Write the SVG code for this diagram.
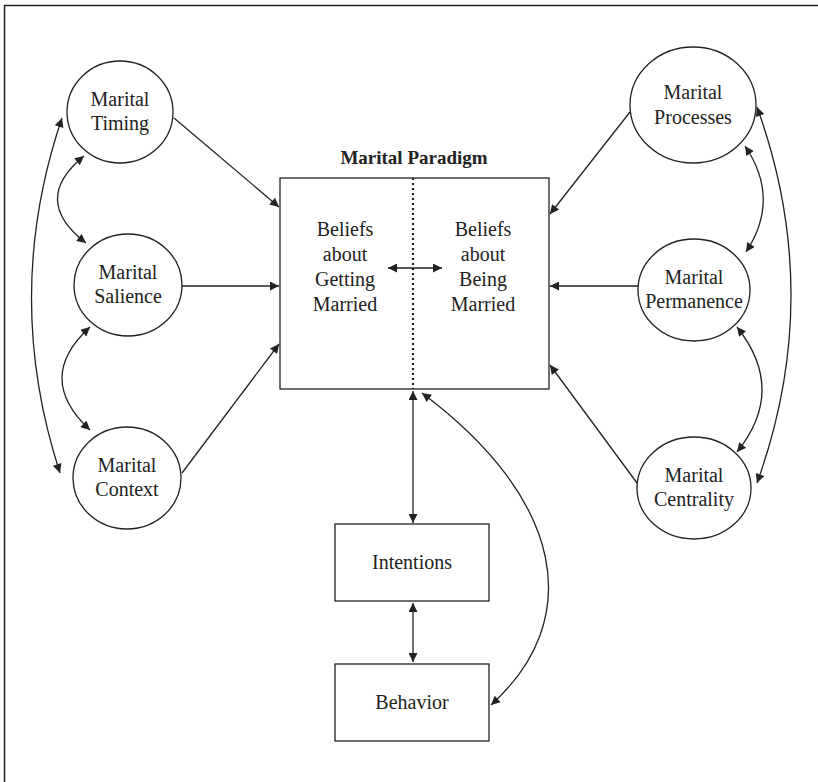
<svg xmlns="http://www.w3.org/2000/svg" width="818" height="782" viewBox="0 0 818 782">
<style>
.ln{fill:none;stroke:#222;stroke-width:1.3}
.nd{fill:#fff;stroke:#222;stroke-width:1.3}
text{font-family:'Liberation Serif','Times New Roman',Tinos,'DejaVu Serif',serif;font-size:20px;fill:#222;text-anchor:middle}
.b{font-weight:bold;font-size:19px}
</style>
<defs>
<marker id="ah" viewBox="0 0 10 10" refX="10" refY="5" markerWidth="11" markerHeight="9" markerUnits="userSpaceOnUse" orient="auto-start-reverse">
<path d="M0,0 L10,5 L0,10 z" fill="#222"/>
</marker>
</defs>
<rect width="818" height="782" fill="#fff"/>
<path d="M4.5,782 V5.5 H818" fill="none" stroke="#222" stroke-width="1.5"/>

<g id="connectors">
<line class="ln" x1="174" y1="118" x2="279" y2="207" marker-end="url(#ah)"/>
<line class="ln" x1="182" y1="286" x2="279" y2="286" marker-end="url(#ah)"/>
<line class="ln" x1="182" y1="473" x2="279" y2="344" marker-end="url(#ah)"/>
<line class="ln" x1="630" y1="112" x2="550" y2="214" marker-end="url(#ah)"/>
<line class="ln" x1="638" y1="286" x2="550" y2="286" marker-end="url(#ah)"/>
<line class="ln" x1="637" y1="483" x2="550" y2="365" marker-end="url(#ah)"/>
<path class="ln" d="M84,156 Q30,200 86,243" marker-start="url(#ah)" marker-end="url(#ah)"/>
<path class="ln" d="M90,327 Q34,378 90,430" marker-start="url(#ah)" marker-end="url(#ah)"/>
<path class="ln" d="M62,118 Q2,295 60,473" marker-start="url(#ah)" marker-end="url(#ah)"/>
<path class="ln" d="M745,146 Q781,199 746,252" marker-start="url(#ah)" marker-end="url(#ah)"/>
<path class="ln" d="M737,327 Q787,390 737,452" marker-start="url(#ah)" marker-end="url(#ah)"/>
<path class="ln" d="M757,107 Q825,295 757,483" marker-start="url(#ah)" marker-end="url(#ah)"/>
<line class="ln" x1="388" y1="268" x2="442" y2="268" marker-start="url(#ah)" marker-end="url(#ah)"/>
<line class="ln" x1="413" y1="391" x2="413" y2="523" marker-start="url(#ah)" marker-end="url(#ah)"/>
<line class="ln" x1="413" y1="603" x2="413" y2="662" marker-start="url(#ah)" marker-end="url(#ah)"/>
<path class="ln" d="M491,705 C585,620 565,500 422,393" marker-start="url(#ah)" marker-end="url(#ah)"/>
</g>

<g id="paradigm">
<text class="b" x="414" y="164">Marital Paradigm</text>
<rect x="280" y="178" width="269" height="211" fill="none" stroke="#222" stroke-width="1.3"/>
<line x1="413" y1="178" x2="413" y2="389" stroke="#222" stroke-width="2.2" stroke-dasharray="2,3"/>
<text x="345" y="236">Beliefs</text>
<text x="345" y="261">about</text>
<text x="345" y="286">Getting</text>
<text x="345" y="311">Married</text>
<text x="483" y="236">Beliefs</text>
<text x="483" y="261">about</text>
<text x="483" y="286">Being</text>
<text x="483" y="311">Married</text>
</g>

<g id="timing">
<ellipse class="nd" cx="120" cy="112" rx="53" ry="51"/>
<text x="120" y="106">Marital</text>
<text x="120" y="130">Timing</text>
</g>
<g id="salience">
<ellipse class="nd" cx="128" cy="285" rx="54" ry="51"/>
<text x="128" y="279">Marital</text>
<text x="128" y="303">Salience</text>
</g>
<g id="context">
<ellipse class="nd" cx="127" cy="478" rx="54" ry="51"/>
<text x="127" y="472">Marital</text>
<text x="127" y="496">Context</text>
</g>
<g id="processes">
<ellipse class="nd" cx="693" cy="105" rx="63" ry="58"/>
<text x="693" y="99">Marital</text>
<text x="693" y="124">Processes</text>
</g>
<g id="permanence">
<ellipse class="nd" cx="694" cy="290" rx="56" ry="51"/>
<text x="694" y="284">Marital</text>
<text x="694" y="308">Permanence</text>
</g>
<g id="centrality">
<ellipse class="nd" cx="694" cy="488" rx="57" ry="51"/>
<text x="694" y="482">Marital</text>
<text x="694" y="506">Centrality</text>
</g>
<g id="intentions">
<rect class="nd" x="335" y="524" width="154" height="77"/>
<text x="412" y="569">Intentions</text>
</g>
<g id="behavior">
<rect class="nd" x="335" y="664" width="154" height="77"/>
<text x="412" y="709">Behavior</text>
</g>
</svg>
